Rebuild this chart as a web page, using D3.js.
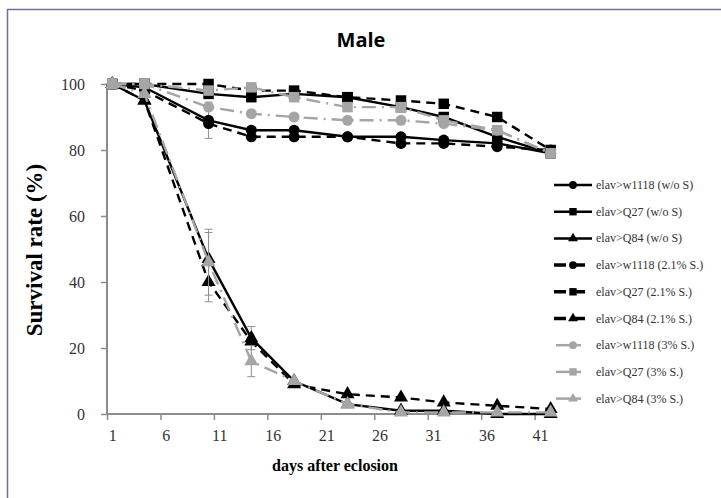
<!DOCTYPE html>
<meta charset="utf-8">
<style>
body { margin: 0; background: #fff; }
.tick text { font-family: "Liberation Serif", "Times New Roman", serif; fill: #333; }
.legend text { font-family: "Liberation Serif", "Times New Roman", serif; font-size: 12px; fill: #333; }
</style>
<body>
<script src="https://d3js.org/d3.v7.min.js"></script>
<script>

// sampling days (x values)
var days = [1, 4, 10, 14, 18, 23, 28, 32, 37, 42];

// survival values (%)
var w1118_woS  = [100, 99, 89, 86, 86, 84, 84, 83, 82, 79];
var q27_woS    = [100, 100, 97, 96, 97, 96, 93, 90, 84, 79];
var q84_woS    = [100, 95, 47, 23, 10, 3, 1, 1, 0, 0];
var w1118_21   = [100, 98, 88, 84, 84, 84, 82, 82, 81, 80];
var q27_21     = [100, 100, 100, 98, 98, 96, 95, 94, 90, 80];
var q84_21     = [100, 95, 40, 22, 9, 6, 5, 3.5, 2.5, 1.5];
var w1118_3    = [100, 100, 93, 91, 90, 89, 89, 88, 86, 79];
var q27_3      = [100, 100, 98, 99, 96, 93, 93, 89, 86, 79];
var q84_3      = [100, 97, 46, 16, 10, 3, 0.5, 0.5, 0.5, 0.5];

// error bars (only a few points carry one)
var err_w1118_woS = [0, 0, 5.5, 0, 0, 0, 0, 0, 0, 0];
var err_q84_woS   = [0, 0, 8, 3.5, 0, 0, 0, 0, 0, 0];
var err_q84_21    = [0, 0, 6, 0, 0, 0, 0, 0, 0, 0];
var err_q84_3     = [0, 0, 10, 4.7, 0, 0, 0, 0, 0, 0];

var seriesNames = ["elav>w1118 (w/o S)", "elav>Q27 (w/o S)", "elav>Q84 (w/o S)",
                   "elav>w1118 (2.1% S.)", "elav>Q27 (2.1% S.)", "elav>Q84 (2.1% S.)",
                   "elav>w1118 (3% S.)", "elav>Q27 (3% S.)", "elav>Q84 (3% S.)"];

var xTickDays = [1, 6, 11, 16, 21, 26, 31, 36, 41];
var yTicks = [0, 20, 40, 60, 80, 100];

var black = "#000", gray = "#a5a5a5";
var series = [
  {name: seriesNames[0], v: w1118_woS, err: err_w1118_woS, color: black, dash: null, sym: d3.symbolCircle, size: 95},
  {name: seriesNames[1], v: q27_woS, color: black, dash: null, sym: d3.symbolSquare, size: 110},
  {name: seriesNames[2], v: q84_woS, err: err_q84_woS, color: black, dash: null, sym: d3.symbolTriangle, size: 85},
  {name: seriesNames[3], v: w1118_21, color: black, dash: "9,6", sym: d3.symbolCircle, size: 95},
  {name: seriesNames[4], v: q27_21, color: black, dash: "9,6", sym: d3.symbolSquare, size: 110},
  {name: seriesNames[5], v: q84_21, err: err_q84_21, color: black, dash: "9,6", sym: d3.symbolTriangle, size: 85},
  {name: seriesNames[6], v: w1118_3, color: gray, dash: "14,6,2,6", sym: d3.symbolCircle, size: 95},
  {name: seriesNames[7], v: q27_3, color: gray, dash: "14,6,2,6", sym: d3.symbolSquare, size: 110},
  {name: seriesNames[8], v: q84_3, err: err_q84_3, color: gray, dash: "14,6,2,6", sym: d3.symbolTriangle, size: 85}
];

var W = 721, H = 498;
var svg = d3.select("body").append("svg").attr("width", W).attr("height", H);

// frame
svg.append("path").attr("d", "M7.5," + H + "V9.5H" + W)
    .attr("fill", "none").attr("stroke", "#6f6f9f").attr("stroke-width", 1.5);

// scales: category-style axis, each day is one slot
var x = d3.scaleLinear().domain([0.5, 42.5]).range([107, 556]);
var y = d3.scaleLinear().domain([0, 100]).range([414, 84]);

// title
svg.append("text").attr("x", 361).attr("y", 47).attr("text-anchor", "middle")
    .style("font-family", "'Open Sans', sans-serif").style("font-weight", "bold")
    .style("font-size", "20px").text("Male");

// y axis
var gy = svg.append("g").attr("transform", "translate(107,0)")
    .call(d3.axisLeft(y).tickValues(yTicks).tickSize(6).tickPadding(16));
gy.selectAll("text").style("font-size", "16px");

// x axis: tick marks between categories, labels on days
var gx = svg.append("g").attr("transform", "translate(0,414)")
    .call(d3.axisBottom(x).tickValues(d3.range(0.5, 42, 5)).tickSize(6).tickFormat(""));
var gxl = svg.append("g").attr("transform", "translate(0,414)")
    .call(d3.axisBottom(x).tickValues(xTickDays).tickSize(0).tickPadding(16));
gxl.select(".domain").remove();
gxl.selectAll("text").style("font-size", "16px");

[gx, gy].forEach(function(g) {
  g.select(".domain").attr("stroke", "#8c8c8c").attr("stroke-width", 2);
  g.selectAll(".tick line").attr("stroke", "#8c8c8c").attr("stroke-width", 1.5);
});
gx.select(".domain").attr("d", "M107,0H556");
gy.select(".domain").attr("d", "M0,84V414");

// axis titles
svg.append("text").attr("transform", "translate(42,250) rotate(-90)")
    .attr("text-anchor", "middle")
    .style("font-family", "'Liberation Serif', serif").style("font-weight", "bold")
    .style("font-size", "23px").text("Survival rate  (%)");
svg.append("text").attr("x", 335).attr("y", 471).attr("text-anchor", "middle")
    .style("font-family", "'Liberation Serif', serif").style("font-weight", "bold")
    .style("font-size", "16px").text("days after eclosion");

var line = d3.line().x(function(d) { return x(d[0]); }).y(function(d) { return y(d[1]); });

series.forEach(function(s) {
  var pts = days.map(function(d, i) { return [d, s.v[i]]; });
  svg.append("path").datum(pts)
      .attr("fill", "none").attr("stroke", s.color).attr("stroke-width", 2.4)
      .attr("stroke-dasharray", s.dash).attr("d", line);

  if (s.err) {
    var eb = svg.append("g").attr("stroke", "#8f8f8f").attr("stroke-width", 1);
    days.forEach(function(d, i) {
      var e = s.err[i];
      if (!e) return;
      var cx = x(d);
      eb.append("line").attr("x1", cx).attr("x2", cx).attr("y1", y(s.v[i] + e)).attr("y2", y(s.v[i] - e));
      eb.append("line").attr("x1", cx - 4).attr("x2", cx + 4).attr("y1", y(s.v[i] + e)).attr("y2", y(s.v[i] + e));
      eb.append("line").attr("x1", cx - 4).attr("x2", cx + 4).attr("y1", y(s.v[i] - e)).attr("y2", y(s.v[i] - e));
    });
  }

  svg.append("g").selectAll("path").data(pts).join("path")
      .attr("transform", function(d) { return "translate(" + x(d[0]) + "," + y(d[1]) + ")"; })
      .attr("d", d3.symbol().type(s.sym).size(s.size))
      .attr("fill", s.color);
});

// legend
var lg = svg.append("g").attr("class", "legend");
series.forEach(function(s, i) {
  var ly = 185 + i * 26.7;
  var isGray = s.color === gray;
  lg.append("line").attr("x1", isGray ? 556 : 554).attr("x2", isGray ? 581 : 592)
      .attr("y1", ly).attr("y2", ly)
      .attr("stroke", s.color).attr("stroke-width", s.dash && !isGray ? 3.5 : 2.5)
      .attr("stroke-dasharray", s.dash && !isGray ? "12,7" : null);
  lg.append("path").attr("transform", "translate(573," + ly + ")")
      .attr("d", d3.symbol().type(s.sym).size(s.size * 0.5)).attr("fill", s.color);
  lg.append("text").attr("x", 596).attr("y", ly + 4).text(s.name);
});

</script>
</body>
